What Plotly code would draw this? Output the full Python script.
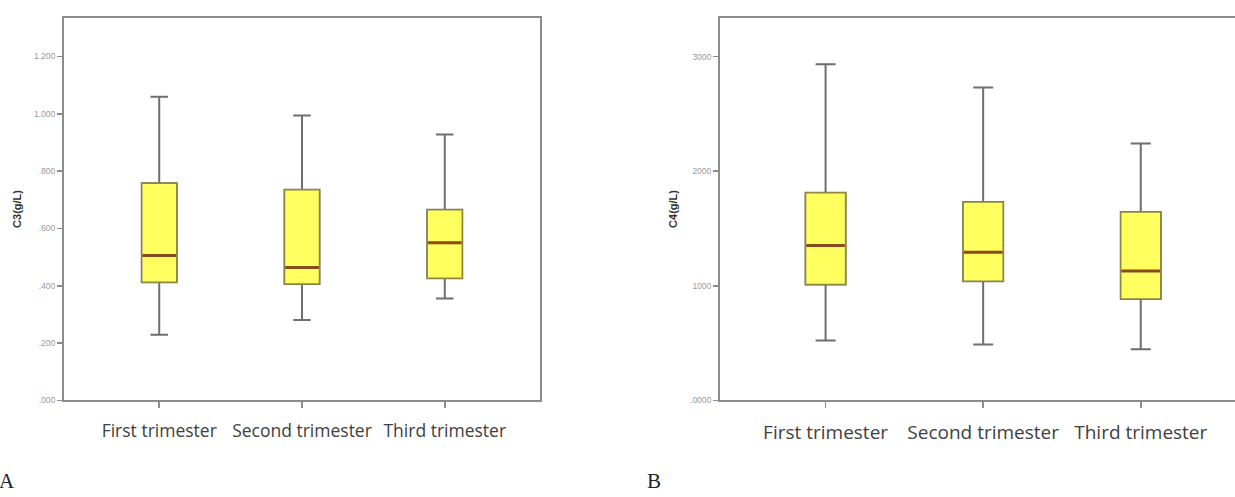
import plotly.graph_objects as go

categories = ["First trimester", "Second trimester", "Third trimester"]

# Panel A: C3 (g/L)
c3_lower = [0.229, 0.281, 0.356]
c3_q1 = [0.412, 0.406, 0.426]
c3_median = [0.506, 0.464, 0.550]
c3_q3 = [0.758, 0.735, 0.665]
c3_upper = [1.060, 0.994, 0.928]
c3_tickvals = [0.0, 0.2, 0.4, 0.6, 0.8, 1.0, 1.2]
c3_ticktext = [".000", ".200", ".400", ".600", ".800", "1.000", "1.200"]

# Panel B: C4 (g/L)
c4_lower = [524, 489, 446]
c4_q1 = [1012, 1041, 886]
c4_median = [1352, 1294, 1130]
c4_q3 = [1812, 1731, 1645]
c4_upper = [2933, 2732, 2243]
c4_tickvals = [0, 1000, 2000, 3000]
c4_ticktext = [".0000", "1000", "2000", "3000"]

W, H = 1235, 497


def px(x):
    return x / W


def py(y):
    return (H - y) / H


WHISKER = "#6e6e6e"
OUTLINE = "#8f8840"
MEDIAN = "#8a4a1c"
FILL = "#ffff60"
AXIS = "#8c8c8c"

fig = go.Figure()


def add_panel(xa, ya, lower, q1, med, q3, upper, width):
    fig.add_trace(go.Box(
        x=categories, lowerfence=lower, q1=q1, median=med, q3=q3, upperfence=upper,
        xaxis=xa, yaxis=ya, width=width, whiskerwidth=0.5,
        fillcolor=FILL, line=dict(color=WHISKER, width=2),
        boxpoints=False, hoverinfo="skip", showlegend=False))
    fig.add_trace(go.Box(
        x=categories, lowerfence=q1, q1=q1, median=med, q3=q3, upperfence=q3,
        xaxis=xa, yaxis=ya, width=width, whiskerwidth=0,
        fillcolor=FILL, line=dict(color=OUTLINE, width=1.5),
        boxpoints=False, hoverinfo="skip", showlegend=False))
    fig.add_trace(go.Box(
        x=categories, lowerfence=med, q1=med, median=med, q3=med, upperfence=med,
        xaxis=xa, yaxis=ya, width=width * 0.96, whiskerwidth=0,
        fillcolor="rgba(0,0,0,0)", line=dict(color=MEDIAN, width=3),
        boxpoints=False, hoverinfo="skip", showlegend=False))


add_panel("x", "y", c3_lower, c3_q1, c3_median, c3_q3, c3_upper, 0.245)
add_panel("x2", "y2", c4_lower, c4_q1, c4_median, c4_q3, c4_upper, 0.254)

ydom = [py(404.5), py(18)]

common_x = dict(showline=True, linecolor=AXIS, linewidth=2, ticks="outside",
                ticklen=6, tickcolor=AXIS, tickwidth=1.5, showgrid=False,
                zeroline=False, fixedrange=True, type="category",
                ticklabelstandoff=8)
common_y = dict(showline=True, linecolor=AXIS, linewidth=2, ticks="outside",
                ticklen=5, tickcolor=AXIS, tickwidth=1.5, showgrid=False,
                zeroline=False, tickmode="array", fixedrange=True,
                tickfont=dict(family="Liberation Sans", size=8.5, color="#9a9a9a"))

fig.update_layout(
    width=W, height=H,
    margin=dict(l=0, r=0, t=0, b=0),
    paper_bgcolor="white", plot_bgcolor="white",
    boxmode="overlay",
    xaxis=dict(domain=[px(64), px(540)], range=[-0.667, 2.667], mirror=True,
               tickfont=dict(family="Open Sans", size=17.5, color="#404040"), **common_x),
    yaxis=dict(domain=ydom, range=[0, 1.335], mirror=True,
               tickvals=c3_tickvals, ticktext=c3_ticktext, **common_y),
    xaxis2=dict(domain=[px(720), 1.0], range=[-0.67, 2.598], mirror=True,
                anchor="y2",
                tickfont=dict(family="Open Sans", size=19, color="#404040"), **common_x),
    yaxis2=dict(domain=ydom, range=[0, 3339], mirror=False, anchor="x2",
                tickvals=c4_tickvals, ticktext=c4_ticktext, **common_y),
    annotations=[
        dict(text="<b>C3(g/L)</b>", x=px(17), y=py(211), xref="paper", yref="paper",
             textangle=-90, showarrow=False, xanchor="center", yanchor="middle",
             font=dict(family="Liberation Sans", size=11, color="#333333")),
        dict(text="<b>C4(g/L)</b>", x=px(673), y=py(211), xref="paper", yref="paper",
             textangle=-90, showarrow=False, xanchor="center", yanchor="middle",
             font=dict(family="Liberation Sans", size=11, color="#333333")),
        dict(text="A", x=px(0), y=0, xref="paper", yref="paper",
             showarrow=False, xanchor="left", yanchor="bottom", xshift=-2,
             borderpad=0, yshift=-2,
             font=dict(family="Liberation Serif", size=21, color="#222222")),
        dict(text="B", x=px(646), y=0, xref="paper", yref="paper",
             showarrow=False, xanchor="left", yanchor="bottom",
             borderpad=0, yshift=-2,
             font=dict(family="Liberation Serif", size=21, color="#222222")),
    ],
)

fig.write_html(
    "out.html",
    config={"displayModeBar": False, "staticPlot": True},
    post_script="document.body.style.margin='0';document.body.style.overflow='hidden';",
)
